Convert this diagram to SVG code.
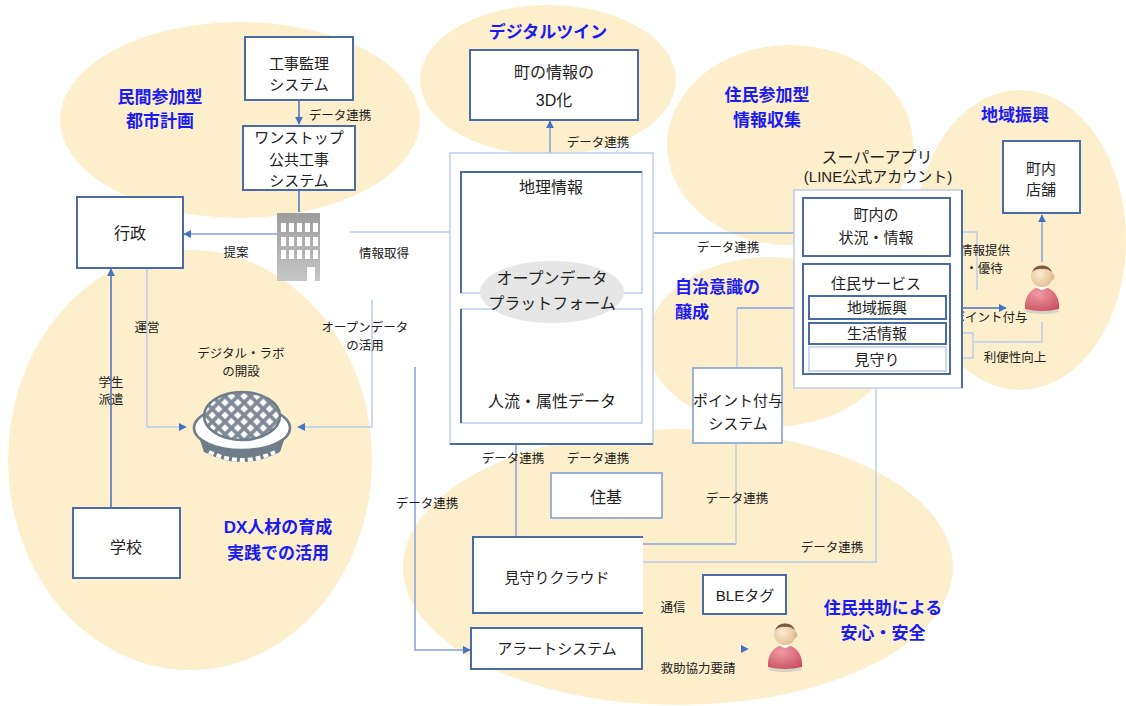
<svg xmlns="http://www.w3.org/2000/svg" width="1126" height="706" viewBox="0 0 1126 706">
<defs>
<style>
.zone{fill:#FDEFCB}
.box{fill:#fff;stroke:#4A6BA8;stroke-width:2}
.boxm{fill:#fff;stroke:#7E9AD0;stroke-width:1.5}
.boxl{fill:#fff;stroke:#BCCDEA;stroke-width:1.5}
.t{font-family:"Liberation Sans","Noto Sans CJK JP",sans-serif;font-size:15px;fill:#222;text-anchor:middle}
.s{font-size:12.5px}
.h{font-family:"Liberation Sans","Noto Sans CJK JP",sans-serif;font-size:17px;font-weight:bold;fill:#1A1AF5;text-anchor:middle}
.ln{fill:none;stroke:#4472C4;stroke-width:1.5}
.lm{fill:none;stroke:#86A3D8;stroke-width:1.5}
.lt{fill:none;stroke:#BCCDEA;stroke-width:1.5}
.dk{fill:none;stroke:#4A6BA8;stroke-width:2}
</style>
<marker id="ah" viewBox="0 0 10 10" refX="9" refY="5" markerWidth="8" markerHeight="8" markerUnits="userSpaceOnUse" orient="auto">
<path d="M0,0L10,5L0,10z" fill="#4472C4"/>
</marker>
<linearGradient id="bldg" x1="0" y1="0" x2="0" y2="1">
<stop offset="0" stop-color="#9C9C9C"/>
<stop offset="1" stop-color="#C6C6C6"/>
</linearGradient>
<radialGradient id="skin" cx="0.4" cy="0.4" r="0.7">
<stop offset="0" stop-color="#FBEBD2"/>
<stop offset="1" stop-color="#E2BC8C"/>
</radialGradient>
<radialGradient id="shirt" cx="0.4" cy="0.3" r="0.8">
<stop offset="0" stop-color="#F09AA4"/>
<stop offset="1" stop-color="#C84E5E"/>
</radialGradient>
<pattern id="lattice" width="9" height="9" patternUnits="userSpaceOnUse" patternTransform="rotate(45 242 416)">
<rect width="9" height="9" fill="#7D8995"/>
<rect x="1.8" y="1.8" width="5.4" height="5.4" fill="#fff"/>
</pattern>
<g id="person">
<ellipse cx="0" cy="35" rx="17" ry="3" fill="#BFBFBF" opacity="0.6"/>
<path d="M-17,33C-18,21 -11,11 0,11C11,11 18,21 17,33Q0,37 -17,33Z" fill="url(#shirt)"/>
<path d="M-6,11Q0,17 6,11Z" fill="#fff"/>
<circle cx="0" cy="0" r="11" fill="url(#skin)"/>
<path d="M-10,-4A11,11 0 0 1 10,-4Q5,-8 0,-7Q-5,-8 -10,-4Z" fill="#7A5A3E"/>
<ellipse cx="10.5" cy="1" rx="2" ry="3" fill="#E2BC8C"/>
</g>
</defs>

<!-- theme zones -->
<g id="zones">
<ellipse class="zone" cx="240" cy="120" rx="180" ry="98"/>
<ellipse class="zone" cx="548" cy="80" rx="128" ry="75"/>
<ellipse class="zone" cx="790" cy="145" rx="123" ry="100"/>
<ellipse class="zone" cx="1020" cy="240" rx="106" ry="150"/>
<ellipse class="zone" cx="770" cy="342" rx="123" ry="85"/>
<ellipse class="zone" cx="190" cy="460" rx="182" ry="210"/>
<ellipse class="zone" cx="678" cy="567" rx="275" ry="138"/>
</g>

<!-- zone titles -->
<g id="zone-titles">
<text class="h" x="160" y="103">民間参加型</text>
<text class="h" x="160" y="127">都市計画</text>
<text class="h" x="548" y="38">デジタルツイン</text>
<text class="h" x="767" y="101">住民参加型</text>
<text class="h" x="767" y="126">情報収集</text>
<text class="h" x="1015" y="121">地域振興</text>
<text class="h" x="675" y="293" style="text-anchor:start">自治意識の</text>
<text class="h" x="675" y="318" style="text-anchor:start">醸成</text>
<text class="h" x="278" y="533">DX人材の育成</text>
<text class="h" x="278" y="559">実践での活用</text>
<text class="h" x="883" y="614">住民共助による</text>
<text class="h" x="883" y="639">安心・安全</text>
</g>

<!-- connectors -->
<g id="connectors">
<path class="ln" d="M299,100V124" marker-end="url(#ah)"/>
<path class="ln" d="M299,190V212"/>
<path class="lm" d="M277,234H184" marker-end="url(#ah)"/>
<path class="lt" d="M350,232H461"/>
<path class="ln" d="M111,507V269" marker-end="url(#ah)"/>
<path class="lt" d="M147,268V427H186" marker-end="url(#ah)"/>
<path class="lt" d="M372,300V427H298" marker-end="url(#ah)"/>
<path class="lm" d="M415,367V650H470" marker-end="url(#ah)"/>
<path class="lm" d="M550,153V121" marker-end="url(#ah)"/>
<path class="lm" d="M516,537V424" marker-end="url(#ah)"/>
<path class="lt" d="M591,443V428" stroke="#fff" marker-end="url(#ah)"/>
<path class="lm" d="M803,233H643" marker-end="url(#ah)"/>
<path class="lm" d="M642,544H736"/>
<path class="lt" d="M736,544V444"/>
<path class="lt" d="M642,562H876V377" marker-end="url(#ah)"/>
<path class="lt" d="M737,368V308"/>
<path class="lm" d="M737,308H803"/>
<path class="ln" d="M946,308H1006" marker-end="url(#ah)"/>
<path class="lt" d="M950,232H977V290"/>
<path class="lt" d="M1042,322V342H973V358H951" marker-end="url(#ah)"/>
<path class="lt" d="M973,342V333H951" marker-end="url(#ah)"/>
<path class="lm" d="M1042,262V215" marker-end="url(#ah)"/>
<path d="M642,649H748" fill="none" stroke="#FDEFCB" stroke-width="1" marker-end="url(#ah)"/>
</g>

<!-- connector labels -->
<g id="connector-labels">
<text class="t s" x="340" y="120">データ連携</text>
<text class="t s" x="598" y="147">データ連携</text>
<text class="t s" x="236" y="257">提案</text>
<text class="t s" x="384" y="258">情報取得</text>
<text class="t s" x="147" y="332">運営</text>
<text class="t s" x="111" y="387">学生</text>
<text class="t s" x="111" y="404">派遣</text>
<text class="t s" x="365" y="332">オープンデータ</text>
<text class="t s" x="365" y="350">の活用</text>
<text class="t s" x="513" y="463">データ連携</text>
<text class="t s" x="598" y="463">データ連携</text>
<text class="t s" x="427" y="508">データ連携</text>
<text class="t s" x="737" y="503">データ連携</text>
<text class="t s" x="832" y="552">データ連携</text>
<text class="t s" x="673" y="612">通信</text>
<text class="t s" x="698" y="673">救助協力要請</text>
<text class="t s" x="728" y="252">データ連携</text>
<text class="t s" x="985" y="255">情報提供</text>
<text class="t s" x="984" y="273">・優待</text>
<text class="t s" x="990" y="322">ポイント付与</text>
<text class="t s" x="1015" y="362">利便性向上</text>
</g>

<g id="node-kouji-kanri">
<rect class="box" x="245" y="37" width="108" height="63"/>
<text class="t" x="299" y="69">工事監理</text>
<text class="t" x="299" y="90">システム</text>
</g>

<g id="node-onestop">
<rect class="box" x="243" y="126" width="112" height="64"/>
<text class="t" x="299" y="143">ワンストップ</text>
<text class="t" x="299" y="165">公共工事</text>
<text class="t" x="299" y="186">システム</text>
</g>

<g id="node-building">
<rect x="277" y="213" width="43" height="68" fill="url(#bldg)"/>
<g fill="#fff">
<rect x="281" y="223" width="5" height="9"/><rect x="289" y="223" width="5" height="9"/><rect x="297" y="223" width="5" height="9"/><rect x="305" y="223" width="5" height="9"/><rect x="313" y="223" width="5" height="9"/>
<rect x="281" y="237" width="5" height="9"/><rect x="289" y="237" width="5" height="9"/><rect x="297" y="237" width="5" height="9"/><rect x="305" y="237" width="5" height="9"/><rect x="313" y="237" width="5" height="9"/>
<rect x="281" y="250" width="5" height="9"/><rect x="289" y="250" width="5" height="9"/><rect x="297" y="250" width="5" height="9"/><rect x="305" y="250" width="5" height="9"/><rect x="313" y="250" width="5" height="9"/>
<rect x="307" y="267" width="8" height="14"/>
</g>
</g>

<g id="node-gyosei">
<rect class="box" x="77" y="197" width="106" height="71"/>
<text class="t" x="130" y="239" style="font-size:16px">行政</text>
</g>

<g id="node-lab">
<text class="t s" x="241" y="358">デジタル・ラボ</text>
<text class="t s" x="241" y="376">の開設</text>
<path d="M198,434L204,452Q242,472 280,452L286,434Q242,460 198,434Z" fill="#6F7C89"/>
<path d="M209,452Q242,468 275,452" fill="none" stroke="#fff" stroke-width="4" stroke-dasharray="5 3"/>
<ellipse cx="242" cy="428" rx="48" ry="22" fill="#fff" stroke="#6F7C89" stroke-width="2.5"/>
<ellipse cx="242" cy="416" rx="38" ry="24" fill="url(#lattice)" stroke="#6F7C89" stroke-width="2.5"/>
</g>

<g id="node-gakko">
<rect class="box" x="73" y="508" width="107" height="70"/>
<text class="t" x="126" y="553" style="font-size:16px">学校</text>
</g>

<g id="node-3d">
<rect class="box" x="470" y="50" width="168" height="70"/>
<text class="t" x="554" y="78" style="font-size:16px">町の情報の</text>
<text class="t" x="554" y="106" style="font-size:16px">3D化</text>
</g>

<g id="node-platform">
<rect class="boxl" x="450" y="153" width="203" height="291"/>
<path class="dk" d="M450,444H653"/>
<rect class="boxl" x="461" y="172" width="181" height="121"/>
<path class="dk" d="M461,293V172H642"/>
<rect class="boxl" x="461" y="309" width="181" height="114"/>
<path class="dk" d="M461,423V309"/>
<text class="t" x="551" y="193" style="font-size:16px">地理情報</text>
<ellipse cx="552" cy="292" rx="72" ry="31" fill="#E6E6E6"/>
<text class="t" x="552" y="284" style="font-size:16px">オープンデータ</text>
<text class="t" x="552" y="309" style="font-size:16px">プラットフォーム</text>
<text class="t" x="552" y="407" style="font-size:16px">人流・属性データ</text>
</g>

<g id="node-juki">
<rect class="boxm" x="551" y="473" width="111" height="45"/>
<text class="t" x="606" y="503" style="font-size:16px">住基</text>
</g>

<g id="node-mimamori-cloud">
<rect class="box" x="473" y="537" width="169" height="76"/>
<path d="M642,538V612" stroke="#fff" stroke-width="2"/>
<text class="t" x="557" y="583">見守りクラウド</text>
</g>

<g id="node-alert">
<rect class="box" x="471" y="628" width="171" height="41"/>
<text class="t" x="557" y="654">アラートシステム</text>
</g>

<g id="node-point-system">
<rect class="boxm" x="693" y="368" width="89" height="75"/>
<text class="t" x="738" y="406">ポイント付与</text>
<text class="t" x="738" y="429">システム</text>
</g>

<g id="node-ble">
<rect class="box" x="703" y="575" width="83" height="39"/>
<text class="t" x="745" y="601">BLEタグ</text>
</g>

<g id="node-superapp">
<text class="t" x="877" y="163" style="font-size:16px">スーパーアプリ</text>
<text class="t" x="878" y="182">(LINE公式アカウント)</text>
<rect class="boxl" x="794" y="190" width="168" height="198"/>
<path class="dk" d="M962,190V388"/>
<rect class="box" x="803" y="198" width="147" height="58"/>
<text class="t" x="876" y="220">町内の</text>
<text class="t" x="876" y="243">状況・情報</text>
<rect class="box" x="803" y="264" width="147" height="110"/>
<text class="t" x="876" y="289">住民サービス</text>
<rect class="box" x="809" y="296" width="137" height="23"/>
<text class="t" x="877" y="313">地域振興</text>
<rect class="box" x="809" y="323" width="137" height="21"/>
<text class="t" x="877" y="339">生活情報</text>
<rect class="boxl" x="809" y="347" width="137" height="24"/>
<text class="t" x="877" y="365">見守り</text>
</g>

<g id="node-shops">
<rect class="box" x="1003" y="141" width="77" height="72"/>
<text class="t" x="1041" y="174">町内</text>
<text class="t" x="1041" y="195">店舗</text>
</g>

<g id="node-resident">
<use href="#person" x="1042" y="276"/>
</g>

<g id="node-helper">
<use href="#person" x="785" y="634"/>
</g>
</svg>
